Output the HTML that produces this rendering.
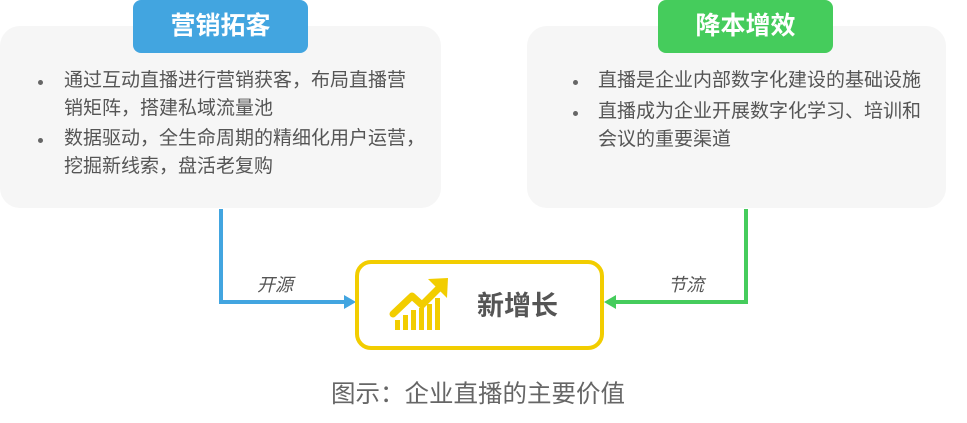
<!DOCTYPE html>
<html><head><meta charset="utf-8"><style>
body{margin:0;width:967px;height:423px;background:#fff;position:relative;overflow:hidden;font-family:"Liberation Sans","Noto Sans CJK SC",sans-serif;}
.box{position:absolute;background:#f6f6f6;border-radius:20px;top:26px;height:182px;}
.tab{position:absolute;top:0;height:53px;width:175px;border-radius:8px;color:#fff;font-size:25px;font-weight:bold;text-align:center;line-height:53px;}
.t{position:absolute;font-size:19px;color:#555;line-height:28px;white-space:nowrap;}
.b{position:absolute;width:5px;height:5px;border-radius:50%;background:#666;}
</style></head><body>
<div class="box" style="left:0;width:441px"></div>
<div class="box" style="left:527px;width:419px"></div>
<div class="tab" style="left:133px;background:#42a5e0">营销拓客</div>
<div class="tab" style="left:658px;background:#45cc5c">降本增效</div>
<div class="b" style="left:38px;top:80px"></div>
<div class="t" style="left:64px;top:67px">通过互动直播进行营销获客，布局直播营<br>销矩阵，搭建私域流量池</div>
<div class="b" style="left:38px;top:138px"></div>
<div class="t" style="left:64px;top:125px">数据驱动，全生命周期的精细化用户运营，<br>挖掘新线索，盘活老复购</div>
<div class="b" style="left:573px;top:80px"></div>
<div class="t" style="left:598px;top:67px">直播是企业内部数字化建设的基础设施</div>
<div class="b" style="left:573px;top:111px"></div>
<div class="t" style="left:598px;top:98px">直播成为企业开展数字化学习、培训和<br>会议的重要渠道</div>
<svg width="967" height="423" style="position:absolute;left:0;top:0">
<polyline points="221,209 221,302 347,302" fill="none" stroke="#42a5e0" stroke-width="4"/>
<polygon points="356,302 344,295 344,309" fill="#42a5e0"/>
<polyline points="746,209 746,302 613,302" fill="none" stroke="#45cc5c" stroke-width="4"/>
<polygon points="604,302 616,295 616,309" fill="#45cc5c"/>
<rect x="357" y="262" width="245" height="86" rx="14" fill="#fff" stroke="#f2cd00" stroke-width="4"/>
<g fill="#f2cd00">
<rect x="395" y="320" width="5" height="10"/><rect x="403" y="315" width="5" height="15"/><rect x="411" y="310" width="5" height="20"/><rect x="419" y="308" width="5" height="22"/><rect x="427" y="304" width="5" height="26"/><rect x="435" y="298" width="5" height="32"/>
<polyline points="393,314 412,296 422,305 442,285" fill="none" stroke="#f2cd00" stroke-width="7" stroke-linejoin="round" stroke-linecap="round"/>
<polygon points="428,279 448,278 447,298"/>
</g>
<text x="477" y="315" font-size="27" font-weight="bold" fill="#555" font-family="Liberation Sans,Noto Sans CJK SC,sans-serif">新增长</text>
<text x="257" y="291" font-size="18" font-style="italic" fill="#555" font-family="Liberation Sans,Noto Sans CJK SC,sans-serif">开源</text>
<text x="668" y="291" font-size="18" font-style="italic" fill="#555" font-family="Liberation Sans,Noto Sans CJK SC,sans-serif">节流</text>
<text x="478" y="402" font-size="24.5" fill="#666" text-anchor="middle" font-family="Liberation Sans,Noto Sans CJK SC,sans-serif">图示：企业直播的主要价值</text>
</svg>
</body></html>
